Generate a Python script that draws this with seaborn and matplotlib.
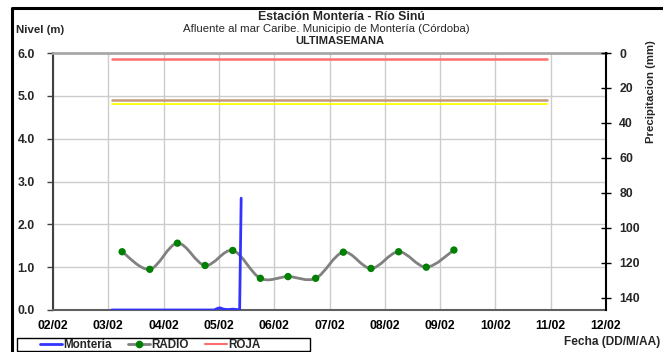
import numpy as np
import pandas as pd
import matplotlib
matplotlib.use("Agg")
import matplotlib.pyplot as plt
import matplotlib.dates as mdates
from matplotlib.path import Path
from matplotlib.patches import PathPatch, Rectangle
from matplotlib.lines import Line2D
import seaborn as sns

# ---------------- data ----------------
monteria_time = ["2025-02-03 01:30", "2025-02-04 12:00", "2025-02-04 22:00", "2025-02-04 23:30",
                 "2025-02-05 00:30", "2025-02-05 02:00", "2025-02-05 04:00", "2025-02-05 06:00",
                 "2025-02-05 08:00", "2025-02-05 09:00", "2025-02-05 09:40"]
monteria_level = [0.00, 0.00, 0.00, 0.04, 0.05, 0.02, 0.01, 0.02, 0.01, 0.00, 2.61]

radio_time = ["2025-02-03 06:00", "2025-02-03 18:00", "2025-02-04 06:00", "2025-02-04 18:00",
              "2025-02-05 06:00", "2025-02-05 18:00", "2025-02-06 06:00", "2025-02-06 18:00",
              "2025-02-07 06:00", "2025-02-07 18:00", "2025-02-08 06:00", "2025-02-08 18:00",
              "2025-02-09 06:00"]
radio_level = [1.36, 0.95, 1.56, 1.04, 1.39, 0.74, 0.78, 0.74, 1.35, 0.97, 1.36, 1.00, 1.40]

threshold_time = ["2025-02-03 01:30", "2025-02-10 22:30"]
roja_level = 5.86
naranja_level = 4.91
amarilla_level = 4.81

x_start, x_end = "2025-02-02", "2025-02-12"
left_ticks = [0, 1, 2, 3, 4, 5, 6]
right_ticks = [0, 20, 40, 60, 80, 100, 120, 140]
right_max = 147

title1 = "Estación Montería - Río Sinú"
title2 = "Afluente al mar Caribe. Municipio de Montería (Córdoba)"
title3 = "ULTIMASEMANA"

# ---------------- plotting ----------------
sns.set_theme(style="white")
plt.rcParams["font.family"] = ["Liberation Sans", "DejaVu Sans"]

fig = plt.figure(figsize=(6.63, 3.52), dpi=100)
ax = fig.add_axes([53 / 663, 1 - 310 / 352, (606 - 53) / 663, (310 - 53) / 352])

df_m = pd.DataFrame({"t": pd.to_datetime(monteria_time), "v": monteria_level})
df_r = pd.DataFrame({"t": pd.to_datetime(radio_time), "v": radio_level})
tt = pd.to_datetime(threshold_time)
df_roja = pd.DataFrame({"t": tt, "v": [roja_level] * 2})
df_nar = pd.DataFrame({"t": tt, "v": [naranja_level] * 2})
df_ama = pd.DataFrame({"t": tt, "v": [amarilla_level] * 2})

ax.grid(True, color="#cccccc", lw=1.0)
ax.set_axisbelow(True)

sns.lineplot(data=df_roja, x="t", y="v", ax=ax, color="#ff6e6e", lw=1.8, zorder=3)
sns.lineplot(data=df_nar, x="t", y="v", ax=ax, color="#c49a78", lw=1.8, zorder=3)
sns.lineplot(data=df_ama, x="t", y="v", ax=ax, color="#ffff00", lw=1.3, zorder=3)

# smoothed RADIO line (Bezier through the observed points)
xs = mdates.date2num(df_r["t"])
ys = np.asarray(radio_level, dtype=float)
n = len(xs)
verts = [(xs[0], ys[0])]
codes = [Path.MOVETO]
for i in range(n - 1):
    p0 = np.array([xs[max(i - 1, 0)], ys[max(i - 1, 0)]])
    p1 = np.array([xs[i], ys[i]])
    p2 = np.array([xs[i + 1], ys[i + 1]])
    p3 = np.array([xs[min(i + 2, n - 1)], ys[min(i + 2, n - 1)]])
    c1 = p1 + (p2 - p0) / 6.0
    c2 = p2 - (p3 - p1) / 6.0
    verts += [tuple(c1), tuple(c2), tuple(p2)]
    codes += [Path.CURVE4] * 3
ax.add_patch(PathPatch(Path(verts, codes), fill=False, edgecolor="#808080", lw=2.0, zorder=4))
sns.scatterplot(data=df_r, x="t", y="v", ax=ax, color="#008000", s=28, edgecolor="none", zorder=5)

sns.lineplot(data=df_m, x="t", y="v", ax=ax, color="#3333ff", lw=2.0, zorder=6)

ax.set_xlim(pd.Timestamp(x_start), pd.Timestamp(x_end))
ax.set_ylim(0, 6)
ax.xaxis.set_major_locator(mdates.DayLocator())
ax.xaxis.set_major_formatter(mdates.DateFormatter("%d/%m"))
ax.set_yticks(left_ticks)
ax.set_yticklabels([f"{v:.1f}" for v in left_ticks])
ax.set_xlabel("")
ax.set_ylabel("")
for lab in ax.get_xticklabels() + ax.get_yticklabels():
    lab.set_fontweight("bold")
    lab.set_fontsize(8.8)
ax.tick_params(axis="x", direction="out", length=3, width=1, color="#404040", pad=4, colors="black")
ax.tick_params(axis="y", direction="out", length=4, width=1, color="#404040", pad=9)
ax.tick_params(axis="x", colors="black")

ax.spines["left"].set_color("#404040")
ax.spines["left"].set_linewidth(1.5)
ax.spines["bottom"].set_color("#606060")
ax.spines["bottom"].set_linewidth(1.5)
ax.spines["top"].set_color("#a8a8a8")
ax.spines["top"].set_linewidth(2.0)
ax.spines["right"].set_visible(False)

ax2 = ax.twinx()
ax2.set_ylim(right_max, 0)
ax2.set_yticks(right_ticks)
ax2.set_yticklabels([str(v) for v in right_ticks], fontweight="bold", fontsize=8.8)
ax2.tick_params(axis="y", direction="inout", length=7, width=1, color="black", pad=6)
ax2.grid(False)
for s in ["left", "top", "bottom"]:
    ax2.spines[s].set_visible(False)
ax2.spines["right"].set_color("black")
ax2.spines["right"].set_linewidth(1.5)
ax2.set_ylabel("")

# titles
fig.text(341 / 663, 1 - 17 / 352, title1, ha="center", va="center", fontsize=8.8, fontweight="bold")
fig.text(326 / 663, 1 - 29.5 / 352, title2, ha="center", va="center", fontsize=8.2)
fig.text(340 / 663, 1 - 41.5 / 352, title3, ha="center", va="center", fontsize=8, fontweight="bold")
fig.text(16 / 663, 1 - 30 / 352, "Nivel (m)", ha="left", va="center", fontsize=8.2, fontweight="bold")
fig.text(660 / 663, 1 - 342 / 352, "Fecha (DD/M/AA)", ha="right", va="center", fontsize=8.6, fontweight="bold")
fig.text(651 / 663, 1 - 92 / 352, "Precipitacion (mm)", ha="center", va="center", rotation=90,
         fontsize=8.2, fontweight="bold")

# outer frame
fig.add_artist(Line2D([12 / 663, 12 / 663, 1.0], [0, 1 - 8 / 352, 1 - 8 / 352],
                      transform=fig.transFigure, color="black", lw=2.2))

# legend box
fig.add_artist(Rectangle((17 / 663, 1 - 351 / 352), (310 - 17) / 663, 13.5 / 352,
                         transform=fig.transFigure, fill=False, edgecolor="black", lw=1.0))
handles = [Line2D([], [], color="#3333ff", lw=2),
           Line2D([], [], color="#808080", lw=2, marker="o", markersize=4.5,
                  markerfacecolor="#008000", markeredgecolor="#008000"),
           Line2D([], [], color="#ff6e6e", lw=1.5)]
leg = fig.legend(handles, ["Monteria", "RADIO", "ROJA"], loc="center left",
                 bbox_to_anchor=(40 / 663, 1 - 345.5 / 352), ncol=3, frameon=False,
                 prop={"weight": "bold", "size": 8.4},
                 borderpad=0, handlelength=1.9, handletextpad=0.1, columnspacing=1.4,
                 borderaxespad=0)

fig.savefig("out.png", dpi=100)
